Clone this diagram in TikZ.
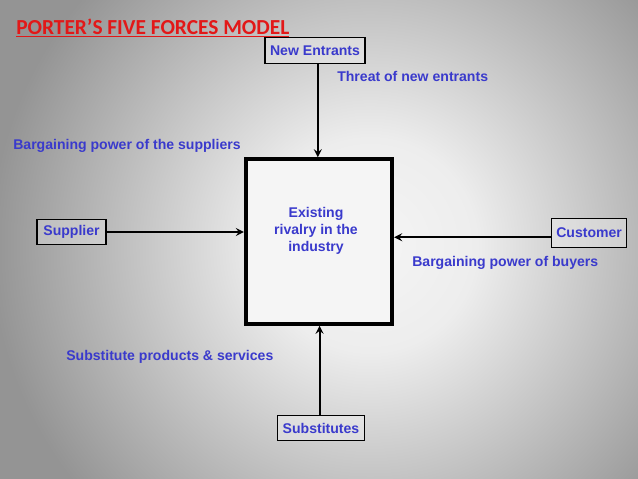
\documentclass[tikz,border=0pt]{standalone}
\usepackage{fontspec}
\setmainfont{Liberation Sans}
\newfontfamily\titlefont{Carlito}
\usepackage{tikz}
\usetikzlibrary{arrows, positioning, calc}
\definecolor{labelblue}{RGB}{58, 58, 204}
\definecolor{titlered}{RGB}{226, 24, 24}
\pgfdeclareradialshading{backglow}{\pgfpoint{0bp}{0bp}}{%
  color(0bp)=(black!4); color(7bp)=(black!7); color(25bp)=(black!42); color(50bp)=(black!42)}

\begin{document}
\begin{tikzpicture}[
    x=0.025cm, y=-0.025cm,
    force/.style={rectangle, draw=black, line width=0.9pt, fill=white, fill opacity=0.3, text opacity=1, inner sep=2pt, minimum height=18pt, font=\fontsize{10}{12}\selectfont\bfseries, text=labelblue},
    rivalry/.style={rectangle, draw=black, line width=2.8pt, fill=black!4, minimum width=104pt, minimum height=117pt},
    note/.style={inner sep=0pt, anchor=west, font=\fontsize{10}{12}\selectfont\bfseries, text=labelblue},
    arrow/.style={line width=1.5pt, ->, >=stealth, color=black}
]
\useasboundingbox (0,0) rectangle (638,479);
\clip (0,0) rectangle (638,479);
\fill[black!42] (0,0) rectangle (638,479);
\shade[shading=backglow] (370,245) circle (380);

% title
\node[inner sep=0pt, anchor=west, text=titlered, font=\titlefont\fontsize{15.2}{17}\selectfont\bfseries] (title) at (16,28) {\underline{PORTER’S FIVE FORCES MODEL}};

% the five forces
\node[rivalry] (rivalry) at (319,241.5) {};
\node[align=center, font=\fontsize{10}{12}\selectfont\bfseries, text=labelblue] (rivtext) at (316,231) {Existing\\rivalry in the\\industry};
\node[force, minimum width=71pt] (entrants) at (315,50.5) {New Entrants};
\node[force, minimum width=49pt] (supplier) at (71.5,232) {Supplier};
\node[force, minimum width=53pt, minimum height=21pt, anchor=east] (customer) at (627,233) {Customer};
\node[force, minimum width=62pt] (substitutes) at (321,428) {Substitutes};

% labels
\node[note] (threat) at (337,76) {Threat of new entrants};
\node[note] (suppower) at (13,146) {Bargaining power of the suppliers};
\node[note] (buypower) at (412,263) {Bargaining power of buyers};
\node[note] (subprod) at (66,357) {Substitute products \& services};

\draw[arrow] ([xshift=2pt]entrants.south) -- ([xshift=2pt]entrants.south |- rivalry.north);
\draw[arrow] (supplier.east) -- (supplier.east -| rivalry.west);
\draw[arrow] ([yshift=-3pt]customer.west) -- ([yshift=-3pt]customer.west -| rivalry.east);
\draw[arrow] ([xshift=-1pt]substitutes.north) -- ([xshift=-1pt]substitutes.north |- rivalry.south);
\end{tikzpicture}
\end{document}
